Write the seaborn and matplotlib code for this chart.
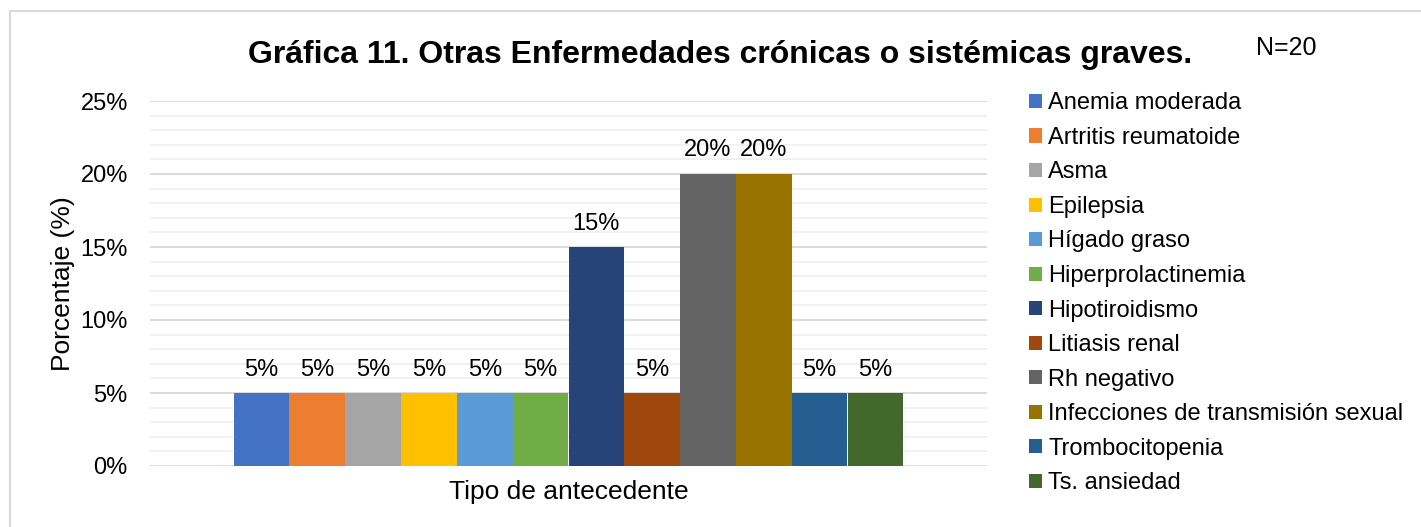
import pandas as pd
import matplotlib.pyplot as plt
import seaborn as sns
from matplotlib.patches import Patch
from matplotlib.lines import Line2D
from matplotlib.ticker import MultipleLocator, PercentFormatter

# Datos de la gráfica
enfermedades = ['Anemia moderada', 'Artritis reumatoide', 'Asma', 'Epilepsia',
                'Hígado graso', 'Hiperprolactinemia', 'Hipotiroidismo',
                'Litiasis renal', 'Rh negativo',
                'Infecciones de transmisión sexual', 'Trombocitopenia',
                'Ts. ansiedad']
porcentajes = [5, 5, 5, 5, 5, 5, 15, 5, 20, 20, 5, 5]
colores = ['#4472C4', '#ED7D31', '#A5A5A5', '#FFC000', '#5B9BD5', '#70AD47',
           '#264478', '#9E480E', '#636363', '#997300', '#255E91', '#43682B']
categoria = 'Tipo de antecedente'

df = pd.DataFrame({'tipo': [categoria] * len(enfermedades),
                   'enfermedad': enfermedades,
                   'porcentaje': porcentajes})

sns.set_theme(style="white")
plt.rcParams['font.family'] = ['Liberation Sans', 'DejaVu Sans']
plt.rcParams['text.color'] = 'black'
plt.rcParams['axes.labelcolor'] = 'black'
plt.rcParams['xtick.color'] = 'black'
plt.rcParams['ytick.color'] = 'black'

fig = plt.figure(figsize=(14.21, 5.27), dpi=100)
ax = fig.add_axes([150 / 1421, 61 / 527, 837 / 1421, 365 / 527])

sns.barplot(data=df, x='tipo', y='porcentaje', hue='enfermedad',
            palette=colores, saturation=1, width=0.8, legend=False, ax=ax,
            linewidth=0)

for cont in ax.containers:
    ax.bar_label(cont, fmt='%.0f%%', padding=9, fontsize=17)

ax.set_ylim(0, 25)
ax.set_xlim(-0.5, 0.5)
ax.yaxis.set_major_locator(MultipleLocator(5))
ax.yaxis.set_minor_locator(MultipleLocator(1))
ax.yaxis.set_major_formatter(PercentFormatter(decimals=0))
ax.grid(axis='y', which='major', color='#d9d9d9', linewidth=1.3)
ax.grid(axis='y', which='minor', color='#f0f0f0', linewidth=1.3)
ax.set_axisbelow(True)
for s in ax.spines.values():
    s.set_visible(False)
ax.tick_params(axis='y', which='both', length=0, labelsize=17, pad=16)
ax.tick_params(axis='x', length=0, labelsize=19, pad=10)
ax.set_xlabel('')
ax.set_ylabel('Porcentaje (%)', fontsize=19, labelpad=4)

fig.text(720 / 1421, 1 - 55 / 527,
         'Gráfica 11. Otras Enfermedades crónicas o sistémicas graves.',
         ha='center', va='center', fontsize=23, fontweight='bold')
fig.text(1286 / 1421, 1 - 48 / 527, 'N=20', ha='center', va='center',
         fontsize=18)

handles = [Patch(facecolor=c, edgecolor='none') for c in colores]
fig.legend(handles, enfermedades, loc='upper left',
           bbox_to_anchor=(1020 / 1421, 1 - 83 / 527), frameon=False,
           fontsize=17, handlelength=0.55, handleheight=0.55,
           handletextpad=0.25, labelspacing=0.53, borderaxespad=0)

# borde del área del gráfico
fig.add_artist(Line2D([10 / 1421, 10 / 1421], [0, 1 - 11 / 527],
                      color='#d9d9d9', linewidth=1.5))
fig.add_artist(Line2D([10 / 1421, 1], [1 - 11 / 527, 1 - 11 / 527],
                      color='#d9d9d9', linewidth=1.5))

fig.savefig('out.png', dpi=100)
plt.close(fig)
